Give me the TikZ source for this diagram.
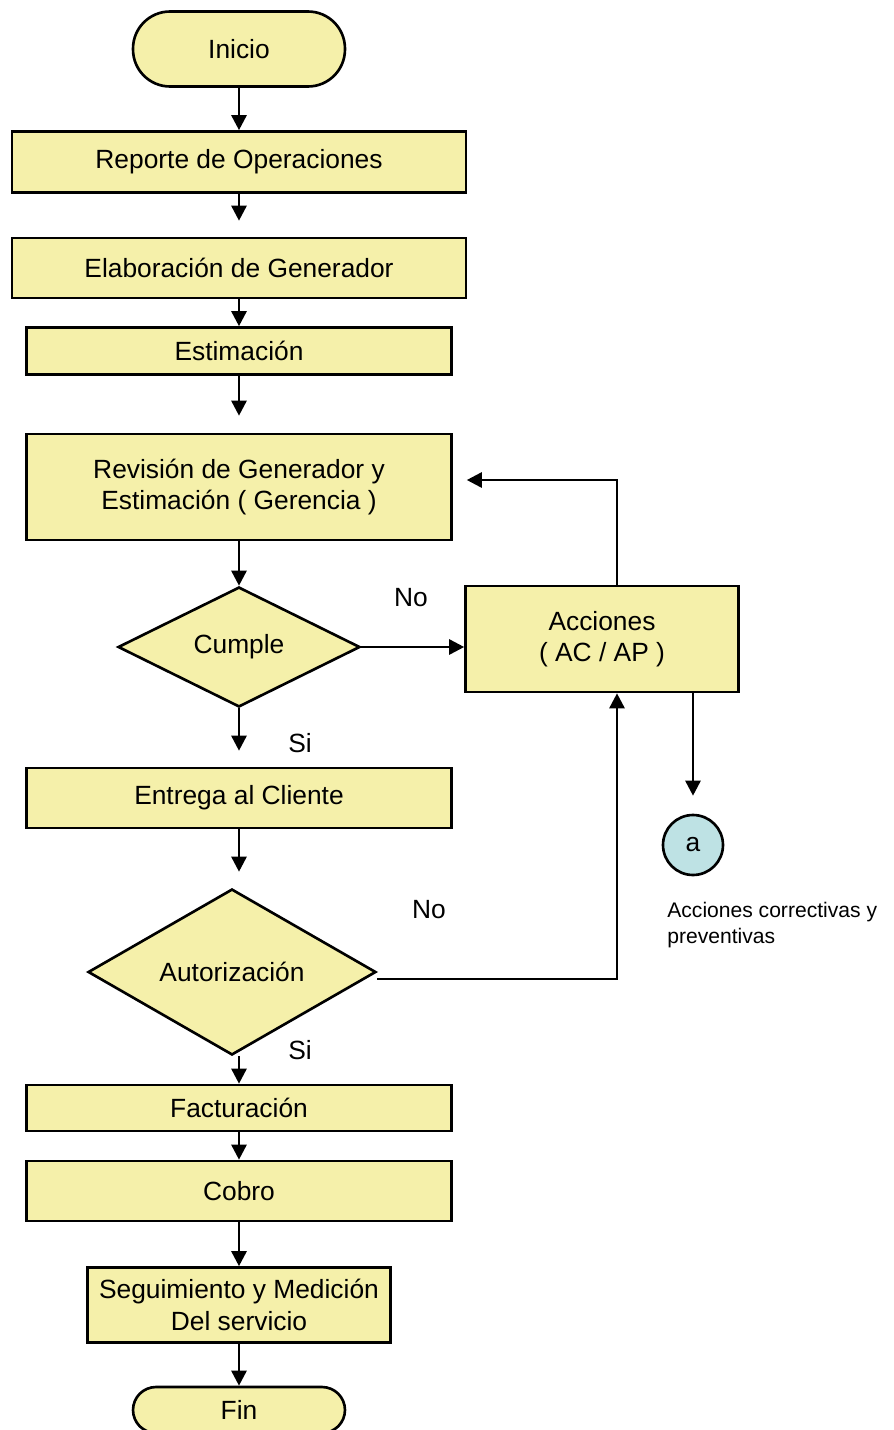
\documentclass[tikz,border=0pt]{standalone}
\usepackage{fontspec}
\setmainfont{Liberation Sans}
\usetikzlibrary{arrows.meta,shapes.geometric}
\definecolor{boxfill}{RGB}{245,240,170}
\definecolor{circfill}{RGB}{190,226,228}
\tikzset{
  arr/.style={draw=black,line width=1.5pt,-{Triangle[length=0.3cm,width=0.3cm]}},
  proc/.style={draw=black,line width=1.5pt,fill=boxfill,align=center,inner sep=0pt},
  term/.style={proc,minimum width=4.24cm},
  decision/.style={draw=black,line width=1.5pt,fill=boxfill,diamond,inner sep=0pt}
}
\tikzstyle{every node}=[font=\fontsize{15}{18}\selectfont]

\begin{document}
\begin{tikzpicture}[x=0.02cm,y=-0.02cm]
    \useasboundingbox (0,0) rectangle (893,1430);
    \node[term,rounded corners=0.74cm,minimum height=1.5cm] (ini) at (239,49) {Inicio};
    \node[proc,minimum width=9.08cm,minimum height=1.22cm] (rep) at (239,162) {Reporte de Operaciones};
    \node[proc,minimum width=9.08cm,minimum height=1.2cm] (ela) at (239,268) {Elaboración de Generador};
    \node[proc,minimum width=8.5cm,minimum height=0.94cm] (est) at (239,351) {Estimación};
    \node[proc,minimum width=8.5cm,minimum height=2.12cm] (rev) at (239,487)
    {Revisión de Generador y\\Estimación ( Gerencia )};
    \node[decision,minimum width=4.84cm,minimum height=2.4cm] (cum) at (239,647) {Cumple};
    \node[proc,minimum width=5.46cm,minimum height=2.12cm] (acc) at (602,639) {Acciones\\( AC / AP )};
    \node[proc,minimum width=8.5cm,minimum height=1.2cm] (ent) at (239,798) {Entrega al Cliente};
    \node[decision,minimum width=5.76cm,minimum height=3.32cm] (aut) at (232,972) {Autorización};
    \node[proc,minimum width=8.5cm,minimum height=0.92cm] (fac) at (239,1108) {Facturación};
    \node[proc,minimum width=8.5cm,minimum height=1.2cm] (cob) at (239,1191) {Cobro};
    \node[proc,minimum width=6.06cm,minimum height=1.5cm] (seg) at (239,1305)
    {Seguimiento y Medición\\Del servicio};
    \node[term,rounded corners=0.46cm,minimum height=0.92cm] (fin) at (239,1410) {Fin};
    \node[circle,draw=black,line width=1.5pt,fill=circfill,minimum size=1.2cm,inner sep=0pt] (a) at (693,845) {a};
    \node[align=left,anchor=north west,inner sep=0pt,font=\fontsize{12}{15}\selectfont] (nota) at (667,902)
    {Acciones correctivas y\\preventivas};
    \node (no1) at (411,598) {No};
    \node (si1) at (300,743) {Si};
    \node (no2) at (429,910) {No};
    \node (si2) at (300,1050) {Si};
    \coordinate (lazo) at (617,0);
    \draw[arr] (ini) -- (rep);
    \draw[arr,shorten >=0.32cm] (rep) -- (ela);
    \draw[arr] (ela) -- (est);
    \draw[arr,shorten >=0.34cm] (est) -- (rev);
    \draw[arr] (rev) -- (cum);
    \draw[arr,shorten >=0.32cm] (cum) -- (ent);
    \draw[arr] (cum) -- (acc.west |- cum);
    \draw[arr,shorten >=0.32cm] (ent.south -| 239,0) -- (aut.north -| 239,0);
    \draw[arr] (aut.south -| 239,0) -- (fac);
    \draw[arr] (fac) -- (cob);
    \draw[arr] (cob) -- (seg);
    \draw[arr] (seg) -- (fin);
    \draw[arr,shorten >=0.28cm] (acc.north -| lazo) |- ([yshift=0.14cm]rev.east);
    \draw[arr] ([yshift=-0.14cm]aut.east) -| (acc.south -| lazo);
    \draw[arr,shorten >=0.36cm] (acc.south -| a) -- (a);
\end{tikzpicture}
\end{document}
